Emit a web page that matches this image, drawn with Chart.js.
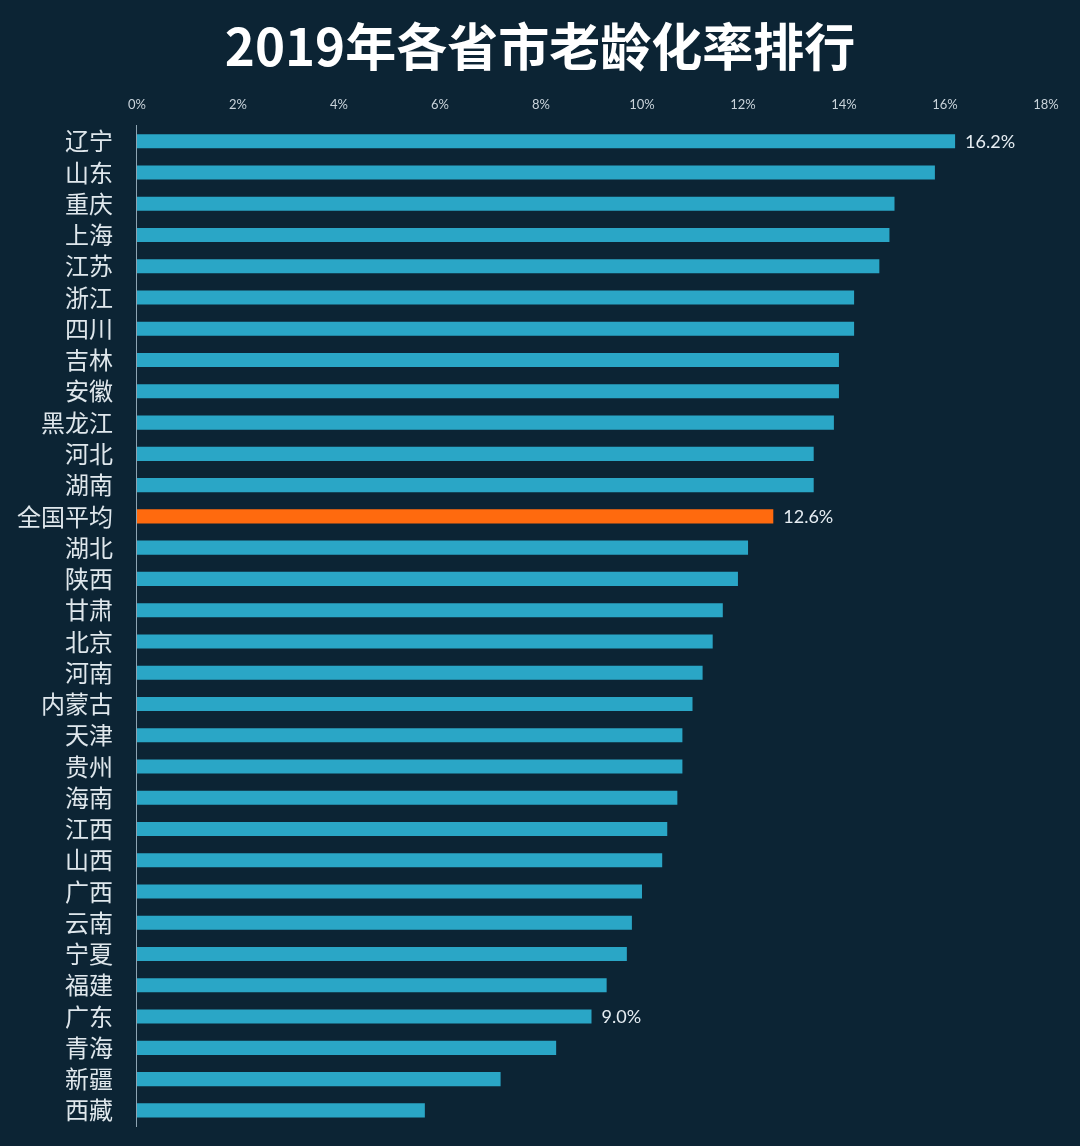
<!DOCTYPE html>
<html>
<head>
<meta charset="utf-8">
<script src="https://cdn.jsdelivr.net/npm/chart.js@4/dist/chart.umd.min.js"></script>
<style>
html,body{margin:0;padding:0;background:#0c2434;}
#wrap{width:1080px;height:1146px;}
</style>
</head>
<body>
<div id="wrap"><canvas id="c" width="1080" height="1146"></canvas></div>
<script>
const provinces = ["辽宁","山东","重庆","上海","江苏","浙江","四川","吉林","安徽","黑龙江","河北","湖南","全国平均","湖北","陕西","甘肃","北京","河南","内蒙古","天津","贵州","海南","江西","山西","广西","云南","宁夏","福建","广东","青海","新疆","西藏"];
const agingRate = [16.2,15.8,15.0,14.9,14.7,14.2,14.2,13.9,13.9,13.8,13.4,13.4,12.6,12.1,11.9,11.6,11.4,11.2,11.0,10.8,10.8,10.7,10.5,10.4,10.0,9.8,9.7,9.3,9.0,8.3,7.2,5.7];
const labeledRows = ["辽宁","全国平均","广东"];
const xTicks = [0,2,4,6,8,10,12,14,16,18];
const titleText = "2019年各省市老龄化率排行";

const barColors = provinces.map(p => p === "全国平均" ? "#ff6a0e" : "#2aa6c6");

const valueLabels = {
  id: 'valueLabels',
  afterDatasetsDraw(chart) {
    const {ctx} = chart;
    const meta = chart.getDatasetMeta(0);
    const xs = chart.scales.x;
    ctx.save();
    ctx.font = '18px Lato, "Open Sans", sans-serif';
    ctx.fillStyle = '#e6edf2';
    ctx.textBaseline = 'middle';
    ctx.textAlign = 'left';
    provinces.forEach((p, i) => {
      if (!labeledRows.includes(p)) return;
      const el = meta.data[i];
      const x = xs.getPixelForValue(agingRate[i]);
      ctx.fillText(agingRate[i].toFixed(1) + '%', x + 10, el.y + 1);
    });
    ctx.restore();
  }
};

const centeredTitle = {
  id: 'centeredTitle',
  afterDraw(chart) {
    const {ctx} = chart;
    ctx.save();
    ctx.font = 'bold 51px "Noto Sans CJK SC", sans-serif';
    ctx.fillStyle = '#ffffff';
    ctx.textAlign = 'center';
    ctx.textBaseline = 'middle';
    ctx.fillText(titleText, chart.width / 2, 47);
    ctx.restore();
  }
};

Chart.defaults.font.family = '"Noto Sans CJK SC", sans-serif';

new Chart(document.getElementById('c'), {
  type: 'bar',
  data: {
    labels: provinces,
    datasets: [{
      data: agingRate,
      backgroundColor: barColors,
      borderWidth: 0,
      barPercentage: 0.9,
      categoryPercentage: 0.5
    }]
  },
  options: {
    indexAxis: 'y',
    responsive: false,
    animation: false,
    layout: { padding: { left: -7, right: 34, bottom: 20, top: 84 } },
    plugins: {
      legend: { display: false },
      tooltip: { enabled: false },
      title: { display: false }
    },
    scales: {
      x: {
        position: 'top',
        min: 0, max: 18,
        afterBuildTicks(scale) { scale.ticks = xTicks.map(v => ({value: v})); },
        ticks: {
          color: '#c9d3da',
          font: { size: 13, family: 'Lato, "Open Sans", sans-serif' },
          padding: 13,
          callback: v => v + '%'
        },
        grid: { display: false, drawTicks: false },
        border: { display: false }
      },
      y: {
        afterFit(scale) { scale.paddingTop = 0; scale.paddingBottom = 0; },
        ticks: {
          color: '#dfe7ec',
          font: { size: 24, family: '"Noto Sans CJK SC", sans-serif' },
          padding: 24,
          autoSkip: false
        },
        grid: { display: false, drawTicks: false },
        border: { display: true, color: '#8ea4b2', width: 1 }
      }
    }
  },
  plugins: [valueLabels, centeredTitle]
});
</script>
</body>
</html>
